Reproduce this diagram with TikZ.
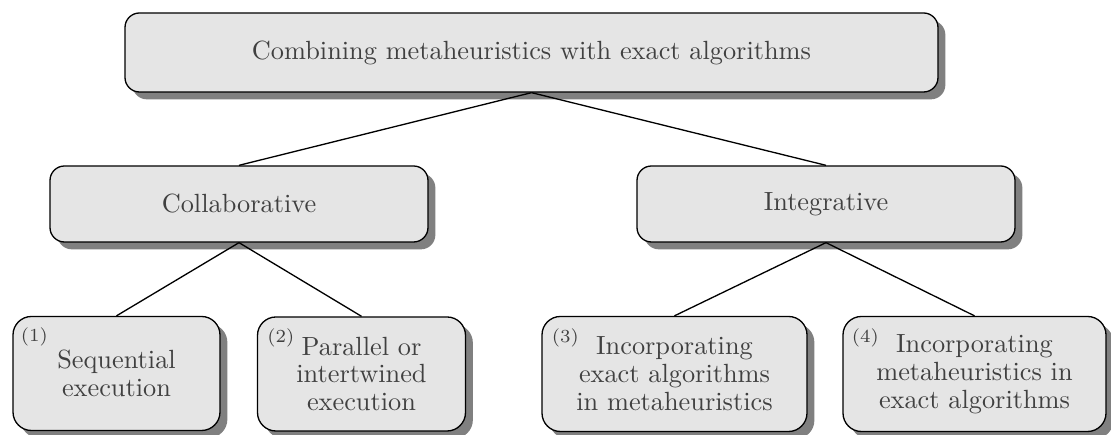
\documentclass[tikz,border=0pt]{standalone}
\usetikzlibrary{shadows}
\newdimen\pxu
\pxu=0.38pt
\tikzset{
  box/.style={draw=black, line width=0.5pt, fill=black!10, text=black!75,
    rounded corners=5.5pt, inner sep=0pt, align=center,
    font=\fontsize{10}{10.6}\selectfont,
    drop shadow={shadow xshift=2.8pt, shadow yshift=-2.8pt, fill=black!50, opacity=1}},
  leafbox/.style={box, rounded corners=7pt},
  numlab/.style={anchor=north west, inner sep=0pt, text=black!75, font=\scriptsize},
  edge/.style={draw=black, line width=0.5pt}
}
\begin{document}
\begin{tikzpicture}[x=\pxu, y=-\pxu]
  \useasboundingbox (0,0) rectangle (1111,435);

  % root
  \node[box, minimum width=813*\pxu, minimum height=79*\pxu] (root) at (531.5,52.5)
    {Combining metaheuristics with exact algorithms};

  % second level
  \node[box, minimum width=378*\pxu, minimum height=76*\pxu] (collab) at (239,204) {Collaborative};
  \node[box, minimum width=378*\pxu, minimum height=76*\pxu] (integ) at (826,204) {Integrative};

  % leaves
  \node[leafbox, minimum width=207*\pxu, minimum height=114*\pxu] (seq) at (116.5,373.5)
    {Sequential\\execution};
  \node[leafbox, minimum width=208*\pxu, minimum height=114*\pxu] (par) at (361.5,374)
    {Parallel or\\intertwined\\execution};
  \node[leafbox, minimum width=265*\pxu, minimum height=115*\pxu] (inc1) at (674.5,374)
    {Incorporating\\exact algorithms\\in metaheuristics};
  \node[leafbox, minimum width=263*\pxu, minimum height=115*\pxu] (inc2) at (974.5,374)
    {Incorporating\\metaheuristics in\\exact algorithms};

  % numbering
  \node[numlab] (l1) at ([xshift=8*\pxu, yshift=-11*\pxu]seq.north west) {(1)};
  \node[numlab] (l2) at ([xshift=10*\pxu, yshift=-12*\pxu]par.north west) {(2)};
  \node[numlab] (l3) at ([xshift=10*\pxu, yshift=-12*\pxu]inc1.north west) {(3)};
  \node[numlab] (l4) at ([xshift=9*\pxu, yshift=-12*\pxu]inc2.north west) {(4)};

  % tree edges
  \draw[edge] (root.south) -- (collab.north);
  \draw[edge] (root.south) -- (integ.north);
  \draw[edge] (collab.south) -- (seq.north);
  \draw[edge] (collab.south) -- (par.north);
  \draw[edge] (integ.south) -- (inc1.north);
  \draw[edge] (integ.south) -- (inc2.north);
\end{tikzpicture}
\end{document}
